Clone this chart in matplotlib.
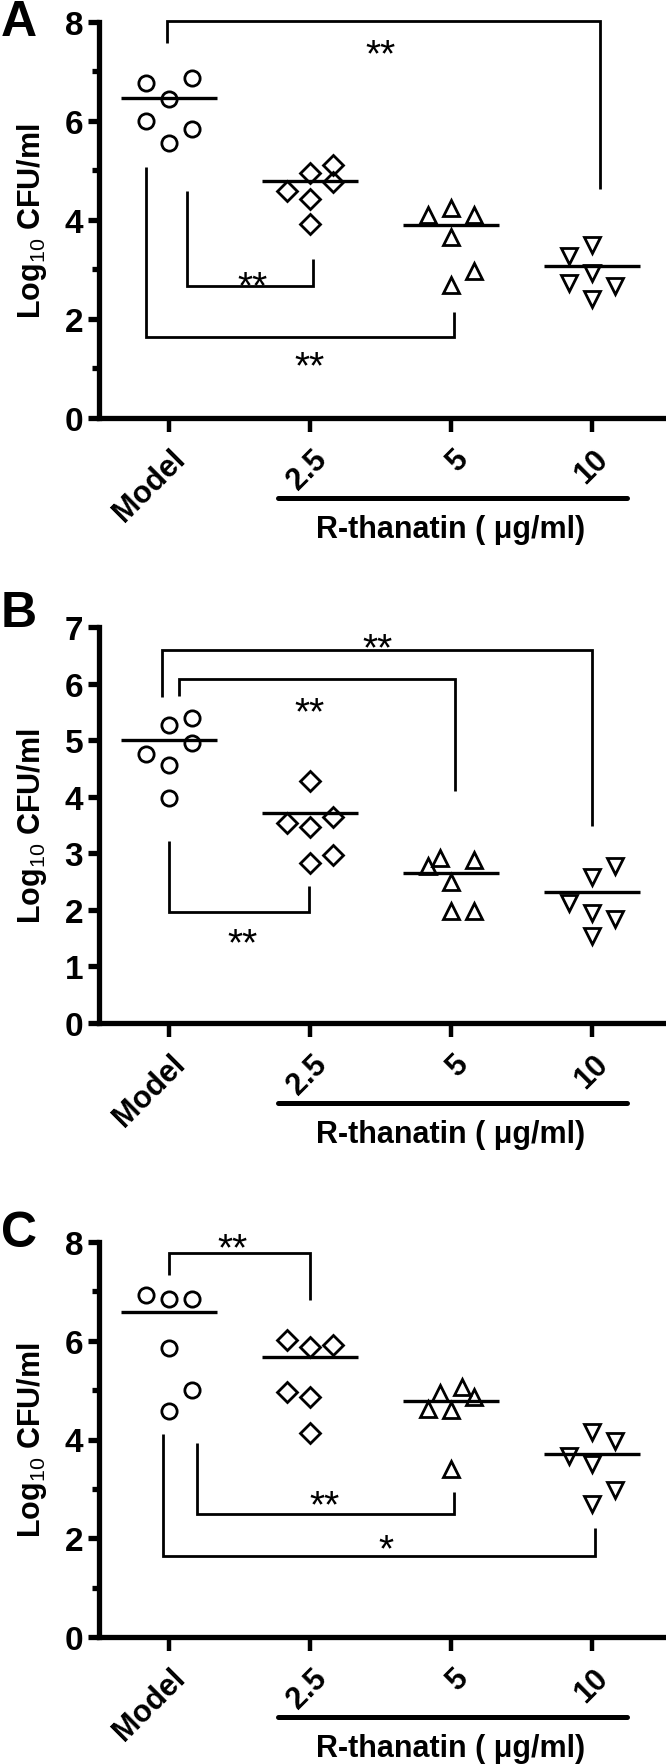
import matplotlib
matplotlib.use("Agg")
import matplotlib.pyplot as plt
from matplotlib import transforms as mtransforms

plt.rcParams['font.family'] = ['Liberation Sans', 'DejaVu Sans']
plt.rcParams['mathtext.fontset'] = 'custom'
plt.rcParams['mathtext.rm'] = 'Liberation Sans'
plt.rcParams['mathtext.default'] = 'rm'

# ---------------- data ----------------
categories = ['Model', '2.5', '5', '10']
group_title = 'R-thanatin ( \u03bcg/ml)'
ylabel_text = 'Log$_{10}$ CFU/ml'

# Panel A
a_model = [6.77, 6.87, 6.44, 5.99, 5.84, 5.55]
a_25 = [4.95, 5.10, 4.59, 4.76, 4.42, 3.92]
a_5 = [4.09, 4.24, 4.09, 3.65, 2.96, 2.69]
a_10 = [3.28, 3.49, 2.92, 2.73, 2.67, 2.40]
a_means = [6.46, 4.78, 3.90, 3.06]

# Panel B
b_model = [5.40, 5.26, 4.95, 4.75, 4.56, 3.98]
b_25 = [4.28, 3.65, 3.54, 3.46, 2.97, 2.82]
b_5 = [2.78, 2.91, 2.88, 2.49, 1.98, 1.98]
b_10 = [2.78, 2.58, 2.13, 1.95, 1.84, 1.54]
b_means = [5.00, 3.72, 2.65, 2.32]

# Panel C
c_model = [6.93, 6.84, 6.84, 5.85, 5.01, 4.58]
c_25 = [6.02, 5.87, 5.92, 4.97, 4.86, 4.14]
c_5 = [4.95, 5.06, 4.86, 4.61, 4.59, 3.41]
c_10 = [4.15, 3.97, 3.67, 3.51, 2.98, 2.69]
c_means = [6.59, 5.67, 4.78, 3.70]

# significance labels for each panel
a_sig = ['**', '**', '**']
b_sig = ['**', '**', '**']
c_sig = ['**', '**', '*']

# ---------------- layout (positions only) ----------------
JSTEP = 0.163
a_jit = [[-1, 1, 0, -1, 1, 0], [0, 1, -1, 1, 0, 0], [-1, 0, 1, 0, 1, 0], [-1, 0, 0, -1, 1, 0]]
b_jit = [[1, 0, 1, -1, 0, 0], [0, 1, -1, 0, 1, 0], [-1, -0.5, 1, 0, 0, 1], [1, 0, -1, 0, 1, 0]]
c_jit = [[-1, 0, 1, 0, 1, 0], [-1, 0, 1, -1, 0, 0], [-0.5, 0.5, 1, -1, 0, 0], [0, 1, -1, 0, 1, 0]]

# bracket geometry: (x_left, x_right, y_bar, y_left_end, y_right_end, label_x, label_y)
a_br = [(-0.015, 3.06, 8.02, 7.58, 4.63, 1.50, 7.58),
        (0.13, 1.02, 2.66, 4.59, 3.21, 0.59, 2.89),
        (-0.16, 2.02, 1.63, 5.06, 2.14, 1.00, 1.28)]
b_br = [(-0.05, 3.00, 6.59, 5.76, 3.48, 1.48, 6.82),
        (0.07, 2.03, 6.08, 5.78, 4.10, 1.00, 5.70),
        (0.00, 0.99, 1.96, 3.22, 2.43, 0.52, 1.62)]
c_br = [(0.00, 1.00, 7.78, 7.33, 6.83, 0.45, 8.10),
        (0.20, 2.02, 2.49, 3.92, 2.94, 1.10, 2.91),
        (-0.045, 3.02, 1.65, 4.12, 2.20, 1.54, 2.00)]

markers = ['o', 'D', '^', 'v']
msizes = [11, 9.7, 11, 11]

W, H = 666, 1765
fig = plt.figure(figsize=(W / 100, H / 100), dpi=100)

left_px, right_px = 98.5, 662.5
panels = [
    dict(top=22.7, bottom=419, letter='A', letter_base=36, ymax=8, major=[0, 2, 4, 6, 8], minor=[1, 3, 5, 7],
         groups=[a_model, a_25, a_5, a_10], jit=a_jit, means=a_means, br=a_br, sig=a_sig),
    dict(top=628, bottom=1024, letter='B', letter_base=627, ymax=7, major=list(range(8)), minor=[],
         groups=[b_model, b_25, b_5, b_10], jit=b_jit, means=b_means, br=b_br, sig=b_sig),
    dict(top=1243, bottom=1638, letter='C', letter_base=1247, ymax=8, major=[0, 2, 4, 6, 8], minor=[1, 3, 5, 7],
         groups=[c_model, c_25, c_5, c_10], jit=c_jit, means=c_means, br=c_br, sig=c_sig),
]

def px(v):
    return v / 100.0

for p in panels:
    ax = fig.add_axes([left_px / W, (H - p['bottom']) / H, (right_px - left_px) / W,
                       (p['bottom'] - p['top']) / H])
    ax.set_xlim(-0.5, 3.5)
    ax.set_ylim(0, p['ymax'])
    for s in ['top', 'right']:
        ax.spines[s].set_visible(False)
    for s in ['left', 'bottom']:
        ax.spines[s].set_linewidth(3.8)
    ax.set_yticks(p['major'])
    ax.set_yticklabels([str(v) for v in p['major']], fontsize=24, fontweight='bold')
    ax.set_yticks(p['minor'], minor=True)
    ax.tick_params(axis='y', which='major', direction='out', length=8, width=3.8, pad=3)
    ax.tick_params(axis='y', which='minor', direction='out', length=4.8, width=3.8)
    ax.set_xticks(range(len(categories)))
    ax.set_xticklabels([])
    ax.tick_params(axis='x', which='major', direction='out', length=10, width=3.2)

    # points
    for i, vals in enumerate(p['groups']):
        xs = [i + j * JSTEP for j in p['jit'][i]]
        ax.plot(xs, vals, linestyle='none', marker=markers[i], markersize=msizes[i],
                markerfacecolor='none', markeredgecolor='black', markeredgewidth=2.0,
                clip_on=False, zorder=3)
        ax.plot([i - 0.34, i + 0.34], [p['means'][i]] * 2, color='black', lw=2.4,
                solid_capstyle='butt', zorder=2)

    # brackets
    for (x1, x2, yb, y1, y2, lx, ly), s in zip(p['br'], p['sig']):
        ax.plot([x1, x1, x2, x2], [y1, yb, yb, y2], color='black', lw=2.0,
                clip_on=False, solid_joinstyle='miter', solid_capstyle='butt')
        fs = 28
        tr = mtransforms.offset_copy(ax.transData, fig=fig, y=-0.58 * fs, units='points')
        ax.text(lx, ly, s, transform=tr, ha='center', va='baseline', fontsize=fs)

    # rotated x labels
    blend = mtransforms.blended_transform_factory(ax.transData, ax.transAxes)
    for i, lab in enumerate(categories):
        tr = blend + mtransforms.ScaledTranslation(px(12), -px(36), fig.dpi_scale_trans)
        ax.text(i, 0, lab, transform=tr, rotation=45, rotation_mode='anchor',
                ha='right', va='center', fontsize=22, fontweight='bold')

    # group bar and title
    trb = blend + mtransforms.ScaledTranslation(0, -px(80), fig.dpi_scale_trans)
    ax.plot([0.77, 3.25], [0, 0], transform=trb, color='black', lw=3.6,
            solid_capstyle='round', clip_on=False)
    trt = blend + mtransforms.ScaledTranslation(0, -px(111), fig.dpi_scale_trans)
    ax.text(2.0, 0, group_title, transform=trt, ha='center', va='center',
            fontsize=22, fontweight='bold')

    # y label
    ax.text(-0.118, 0.5, ylabel_text, transform=ax.transAxes, rotation=90,
            ha='center', va='center', fontsize=22, fontweight='bold')

    # panel letter
    fig.text(1 / W, 1 - p['letter_base'] / H, p['letter'], ha='left', va='baseline',
             fontsize=36, fontweight='bold')

fig.savefig('out.png', dpi=100)
